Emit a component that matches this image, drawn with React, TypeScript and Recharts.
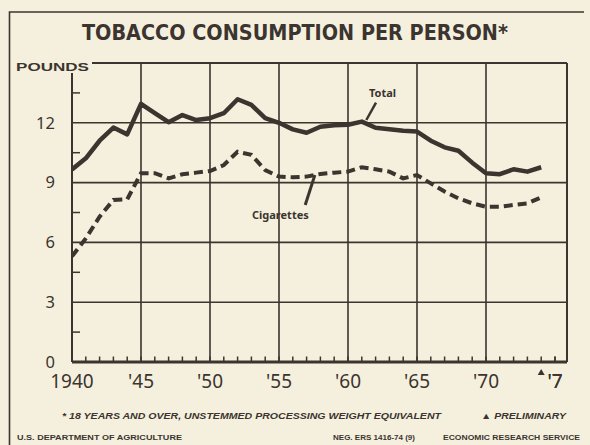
import React from 'react';
import { LineChart, Line, XAxis, YAxis, CartesianGrid, ReferenceDot } from 'recharts';

// pounds per person, 18 years and over
const years = [
  1940, 1941, 1942, 1943, 1944, 1945, 1946, 1947, 1948, 1949,
  1950, 1951, 1952, 1953, 1954, 1955, 1956, 1957, 1958, 1959,
  1960, 1961, 1962, 1963, 1964, 1965, 1966, 1967, 1968, 1969,
  1970, 1971, 1972, 1973, 1974,
];
const totalPounds = [
  9.66, 10.22, 11.1, 11.76, 11.42, 12.95, 12.48, 12.03, 12.39, 12.14,
  12.23, 12.48, 13.18, 12.9, 12.23, 12.0, 11.67, 11.5, 11.8, 11.88,
  11.9, 12.06, 11.75, 11.68, 11.6, 11.56, 11.1, 10.77, 10.6, 10.0,
  9.47, 9.42, 9.67, 9.55, 9.77,
];
const cigarettePounds = [
  5.3, 6.2, 7.29, 8.13, 8.16, 9.47, 9.47, 9.21, 9.42, 9.5,
  9.58, 9.88, 10.55, 10.39, 9.63, 9.3, 9.27, 9.3, 9.43, 9.5,
  9.55, 9.77, 9.67, 9.55, 9.21, 9.38, 8.96, 8.55, 8.21, 7.96,
  7.79, 7.79, 7.88, 7.96, 8.26,
];

const poundTicks = [0, 3, 6, 9, 12];
const poundGrid = [3, 6, 9, 12];
const poundMinor = [1.5, 4.5, 7.5, 10.5, 13.5];
const yearTicks = [1940, 1945, 1950, 1955, 1960, 1965, 1970, 1975];
const yearTickLabels = ['1940', "'45", "'50", "'55", "'60", "'65", "'70", "'7"];
const yearGrid = [1945, 1950, 1955, 1960, 1965, 1970];
const yearMinor = [
  1941, 1942, 1943, 1944, 1946, 1947, 1948, 1949, 1951, 1952, 1953, 1954,
  1956, 1957, 1958, 1959, 1961, 1962, 1963, 1964, 1966, 1967, 1968, 1969,
  1971, 1972, 1973, 1974, 1975,
];
const preliminaryYear = 1974;

// leader lines from the series labels to the curves
const totalLeader = [
  { year: 1962.03, lead: 13.01 },
  { year: 1961.33, lead: 12.14 },
];
const cigaretteLeader = [
  { year: 1957.6, lead: 9.38 },
  { year: 1956.9, lead: 7.88 },
];

const INK = '#3b342f';
const PAPER = '#f5f0de';
const X_MAX = 1975.87;
const Y_MAX = 15;
const TICK_FONT = "'Noto Sans', 'DejaVu Sans', sans-serif";
const NOTE_FONT = "'Liberation Sans', Arial, sans-serif";
const X_MARGIN = 13;
const Y_MARGIN = 17;

const chartData = years.map((year, i) => ({
  year,
  total: totalPounds[i],
  cigarettes: cigarettePounds[i],
}));

const allYearTicks = [...yearTicks, ...yearMinor].sort((a, b) => a - b);
const allPoundTicks = [...poundTicks, ...poundMinor].sort((a, b) => a - b);

function YearTick(props: any) {
  const { x, y, payload } = props;
  const i = yearTicks.indexOf(payload.value);
  const axisY = y - X_MARGIN;
  return (
    <g>
      {payload.value !== 1940 && (
        <line x1={x} x2={x} y1={axisY} y2={axisY - 5.5} stroke={INK} strokeWidth={1.5} />
      )}
      {i >= 0 && (
        <text x={x} y={y} dy="0.71em" textAnchor="middle" fill={INK} fontSize={19} fontFamily={TICK_FONT}>
          {yearTickLabels[i]}
        </text>
      )}
    </g>
  );
}

function PoundTick(props: any) {
  const { x, y, payload } = props;
  if (poundTicks.includes(payload.value)) {
    return (
      <text x={x} y={y} dy="0.355em" textAnchor="end" fill={INK} fontSize={16.5} fontFamily={TICK_FONT}>
        {payload.value}
      </text>
    );
  }
  return <line x1={x + Y_MARGIN} x2={x + Y_MARGIN + 8} y1={y} y2={y} stroke={INK} strokeWidth={1.5} />;
}

function PrelimMark(props: any) {
  const { cx, cy } = props;
  return <polygon points={`${cx - 3.5},${cy + 13} ${cx + 3.5},${cy + 13} ${cx},${cy + 7}`} fill={INK} />;
}

export default function App() {
  return (
    <div style={{ position: 'absolute', left: 0, top: 0, width: 590, height: 445, background: PAPER, overflow: 'hidden' }}>
      <LineChart width={590} height={445} data={chartData} margin={{ top: 63, right: 23, bottom: 53, left: 0 }}>
        <CartesianGrid horizontalValues={poundGrid} verticalValues={yearGrid} stroke={INK} strokeWidth={1.6} />
        <CartesianGrid horizontalValues={[Y_MAX]} verticalValues={[X_MAX]} stroke={INK} strokeWidth={2} />
        <XAxis
          dataKey="year"
          type="number"
          domain={[1940, X_MAX]}
          ticks={allYearTicks}
          interval={0}
          allowDataOverflow
          axisLine={{ stroke: INK, strokeWidth: 3 }}
          tickLine={false}
          tickSize={0}
          tickMargin={X_MARGIN}
          height={30}
          tick={<YearTick />}
        />
        <YAxis
          type="number"
          domain={[0, Y_MAX]}
          ticks={allPoundTicks}
          interval={0}
          width={72}
          axisLine={{ stroke: INK, strokeWidth: 2 }}
          tickLine={false}
          tickSize={0}
          tickMargin={Y_MARGIN}
          tick={<PoundTick />}
        />
        <YAxis
          yAxisId="right"
          orientation="right"
          mirror
          width={1}
          type="number"
          domain={[0, Y_MAX]}
          ticks={poundMinor}
          interval={0}
          tick={false}
          tickSize={7}
          tickLine={{ stroke: INK, strokeWidth: 1.5 }}
          axisLine={{ stroke: INK, strokeWidth: 2 }}
        />

        <Line
          type="linear"
          dataKey="cigarettes"
          stroke={INK}
          strokeWidth={4}
          strokeDasharray="9 5"
          dot={false}
          isAnimationActive={false}
        />
        <Line
          type="linear"
          dataKey="total"
          stroke={INK}
          strokeWidth={4.5}
          strokeLinejoin="round"
          dot={false}
          isAnimationActive={false}
        />

        <Line data={totalLeader} dataKey="lead" stroke={INK} strokeWidth={2.5} dot={false} isAnimationActive={false} />
        <Line data={cigaretteLeader} dataKey="lead" stroke={INK} strokeWidth={3} dot={false} isAnimationActive={false} />
        <ReferenceDot
          x={1962.5}
          y={13.5}
          r={1}
          fill="none"
          stroke="none"
          label={{ value: 'Total', position: 'center', fill: INK, fontSize: 11, fontWeight: 'bold', fontFamily: TICK_FONT }}
        />
        <ReferenceDot
          x={1955.1}
          y={7.38}
          r={1}
          fill="none"
          stroke="none"
          label={{ value: 'Cigarettes', position: 'center', fill: INK, fontSize: 11, fontWeight: 'bold', fontFamily: TICK_FONT }}
        />
        <ReferenceDot x={preliminaryYear} y={0} r={1} ifOverflow="visible" shape={PrelimMark} />
      </LineChart>

      <svg width={590} height={445} style={{ position: 'absolute', left: 0, top: 0, pointerEvents: 'none' }}>
        <path d="M9.5 445 V12 H584" fill="none" stroke={INK} strokeWidth={1.6} />
        <text
          x={82}
          y={40}
          textLength={426}
          lengthAdjust="spacingAndGlyphs"
          fill={INK}
          fontSize={21}
          fontWeight="bold"
          fontFamily="'Liberation Sans Narrow', 'DejaVu Sans Condensed', sans-serif"
        >
          TOBACCO CONSUMPTION PER PERSON*
        </text>
        <rect x={13} y={56} width={79} height={17} fill={PAPER} />
        <text x={16} y={71} textLength={73} lengthAdjust="spacingAndGlyphs" fill={INK} fontSize={10.5} fontWeight="bold" fontFamily={NOTE_FONT}>
          POUNDS
        </text>
        <text x={62} y={419} textLength={379} lengthAdjust="spacingAndGlyphs" fill={INK} fontSize={9} fontWeight="bold" fontStyle="italic" fontFamily={NOTE_FONT}>
          * 18 YEARS AND OVER, UNSTEMMED PROCESSING WEIGHT EQUIVALENT
        </text>
        <text x={481} y={419} textLength={85} lengthAdjust="spacingAndGlyphs" fill={INK} fontSize={9} fontWeight="bold" fontStyle="italic" fontFamily={NOTE_FONT}>
          ▲ PRELIMINARY
        </text>
        <text x={17} y={440} textLength={165} lengthAdjust="spacingAndGlyphs" fill={INK} fontSize={7.5} fontWeight="bold" fontFamily={NOTE_FONT}>
          U.S. DEPARTMENT OF AGRICULTURE
        </text>
        <text x={333} y={440} textLength={82} lengthAdjust="spacingAndGlyphs" fill={INK} fontSize={7.5} fontWeight="bold" fontFamily={NOTE_FONT}>
          NEG. ERS 1416-74 (9)
        </text>
        <text x={443} y={440} textLength={137} lengthAdjust="spacingAndGlyphs" fill={INK} fontSize={7.5} fontWeight="bold" fontFamily={NOTE_FONT}>
          ECONOMIC RESEARCH SERVICE
        </text>
      </svg>
    </div>
  );
}
